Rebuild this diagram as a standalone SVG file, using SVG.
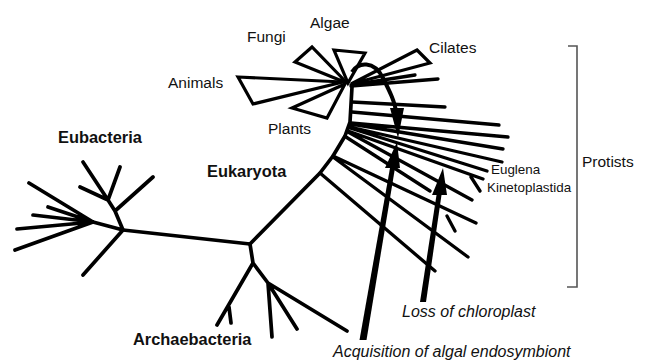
<svg xmlns="http://www.w3.org/2000/svg" width="646" height="361" viewBox="0 0 646 361">
<style>
.br{fill:none;stroke:#000;stroke-width:3.3;stroke-linecap:round;stroke-linejoin:round}
.bk{stroke-width:3.7}
.tri{fill:#fff;stroke:#000;stroke-width:3.2;stroke-linejoin:miter}
.lb{font-family:"Liberation Sans",Arial,sans-serif;font-size:15.5px;fill:#111}
.bd{font-family:"Liberation Sans",Arial,sans-serif;font-size:16.4px;font-weight:bold;fill:#111}
.sm{font-family:"Liberation Sans",Arial,sans-serif;font-size:13.4px;fill:#111}
.it{font-family:"Liberation Sans",Arial,sans-serif;font-size:16px;font-style:italic;fill:#111}
.ar{fill:#000;stroke:none}
</style>
<rect width="646" height="361" fill="#fff"/>
<g id="connectors">
  <path class="br bk" d="M123,230 L250,244"/>
  <path class="br bk" d="M250,244 L320,173 L333,156 L345,136 L350,122 L352,87"/>
</g>
<g id="eubacteria">
  <path class="br bk" d="M123,230 L83,275 M123,230 L115,211 L108,200 M115,211 L153,177 M108,200 L83,162 M108,200 L120,167 M108,200 L80,187 M123,230 L93,222 M93,222 L29,183 M93,222 L48,207 M93,222 L33,215 M93,222 L17,229 M93,222 L15,250"/>
  <text class="bd" x="58" y="143">Eubacteria</text>
</g>
<g id="archaebacteria">
  <path class="br bk" d="M250,244 L253,263 L217,325 M229,307 L231,323 M253,263 L268,283 L272,337 M268,283 L297,329 M268,283 L347,331"/>
  <text class="bd" x="133" y="345">Archaebacteria</text>
</g>
<g id="eukaryota">
  <text class="bd" x="207" y="177">Eukaryota</text>
</g>
<g id="crown">
  <polygon class="tri" points="238,77 343,82 253,104"/>
  <polygon class="tri" points="312,47 295,62 347,83"/>
  <polygon class="tri" points="334,50 365,53 348,83"/>
  <polygon class="tri" points="292,108 345,84 327,118"/>
  <polygon class="tri" points="417,50 430,63 351,84"/>
  <path class="br" d="M351,85 L415,75 M351,86 L438,79"/>
</g>
<g id="labels-crown">
  <text class="lb" x="247" y="42">Fungi</text>
  <text class="lb" x="310" y="28">Algae</text>
  <text class="lb" x="429" y="53">Cilates</text>
  <text class="lb" x="168" y="88">Animals</text>
  <text class="lb" x="268" y="134">Plants</text>
</g>
<g id="protists">
  <path class="br" d="M352,102 L445,107 M352,112 L499,125 M351,123 L508,137 M351,124 L503,149 M350,127 L502,162 M350,128 L487,171 M348,131 L483,179 M471,177 L480,191 M348,132 L472,200 M346,137 L430,191 M333,156 L476,223 M447,216 L455,231 M333,157 L468,257 M320,173 L435,271"/>
  <text class="sm" x="491" y="174">Euglena</text>
  <text class="sm" x="487" y="192">Kinetoplastida</text>
  <path d="M568,46 L577,46 L577,287 L567,287" fill="none" stroke="#555" stroke-width="1.6"/>
  <text class="lb" x="582" y="167">Protists</text>
</g>
<g id="arrows">
  <path d="M352,72 C358,62 374,60 383,78 C390,92 395,102 396,112" fill="none" stroke="#000" stroke-width="4"/>
  <polygon class="ar" points="390,108 404,108 398,138"/>
  <polygon class="ar" points="359.5,340 366.5,340 395,168 390,168"/>
  <polygon class="ar" points="385,168 400,168 397,142"/>
  <polygon class="ar" points="420,302 426,302 441.5,195 436.5,195"/>
  <polygon class="ar" points="432,195 447,195 443,168"/>
  <text class="it" x="402" y="317">Loss of chloroplast</text>
  <text class="it" x="333" y="357">Acquisition of algal endosymbiont</text>
</g>
</svg>
